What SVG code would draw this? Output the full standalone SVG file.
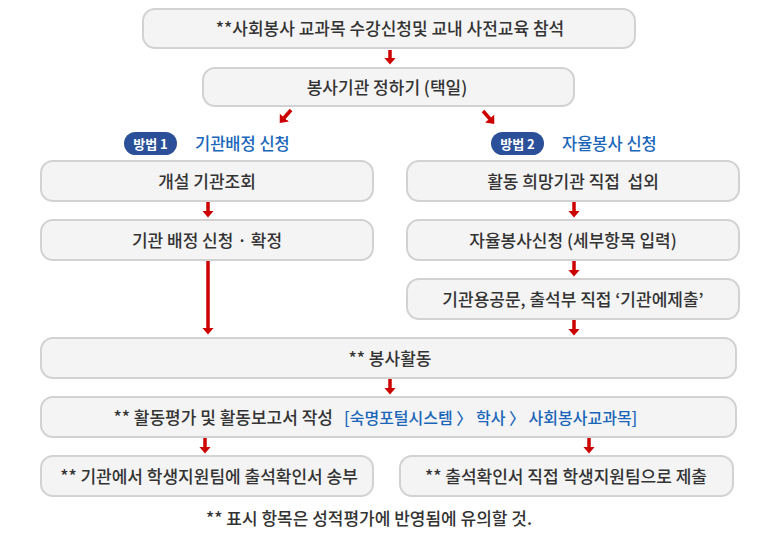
<svg xmlns="http://www.w3.org/2000/svg" width="780" height="550" viewBox="0 0 780 550">
<defs>
<style>
.box{fill:#f4f4f4;stroke:#d2d2d2;stroke-width:2}
.t{font-family:"Noto Sans CJK KR","Noto Sans",sans-serif;font-size:17px;font-weight:500;fill:#333;text-anchor:middle}
.blue{font-family:"Noto Sans CJK KR","Noto Sans",sans-serif;font-size:16px;font-weight:500;fill:#1a66b8}
.bt{font-family:"Noto Sans CJK KR","Noto Sans",sans-serif;font-size:13px;font-weight:bold;fill:#fff;text-anchor:middle}
.lbl{font-family:"Noto Sans CJK KR","Noto Sans",sans-serif;font-size:16.5px;font-weight:500;fill:#1a66b8}
.pill{fill:#2b4f98}
.ar{stroke:#cc0000;stroke-width:3.5;fill:none;marker-end:url(#ah)}
</style>
<marker id="ah" markerUnits="userSpaceOnUse" markerWidth="8" markerHeight="13" refX="0.5" refY="6.5" orient="auto" viewBox="0 0 8 13">
<path d="M0,0.5 L7,6.5 L0,12.5 Z" fill="#cc0000"/>
</marker>
</defs>
<g id="connectors">
<path class="ar" d="M390,50 L390,58"/>
<path class="ar" d="M291,110 L284,118"/>
<path class="ar" d="M483,111 L490,119"/>
<path class="ar" d="M208,202 L208,211"/>
<path class="ar" d="M208,261 L208,328"/>
<path class="ar" d="M574,202 L574,211"/>
<path class="ar" d="M574,261 L574,270"/>
<path class="ar" d="M574,320 L574,329"/>
<path class="ar" d="M390,379 L390,388"/>
<path class="ar" d="M205,438 L205,447"/>
<path class="ar" d="M589,438 L589,447"/>
</g>
<g id="n1"><rect class="box" x="143" y="9" width="492" height="39" rx="12"/><text class="t" x="390" y="35">**사회봉사 교과목 수강신청및 교내 사전교육 참석</text></g>
<g id="n2"><rect class="box" x="203" y="68" width="371" height="38" rx="12"/><text class="t" x="387" y="94">봉사기관 정하기 (택일)</text></g>
<g id="m1"><rect class="pill" x="124" y="132" width="53" height="23" rx="11.5"/><text class="bt" x="150.5" y="148.5">방법 1</text><text class="lbl" x="195" y="150">기관배정 신청</text></g>
<g id="m2"><rect class="pill" x="491" y="132" width="53" height="23" rx="11.5"/><text class="bt" x="517.5" y="148.5">방법 2</text><text class="lbl" x="562" y="150">자율봉사 신청</text></g>
<g id="l1"><rect class="box" x="41" y="161" width="332" height="40" rx="12"/><text class="t" x="207" y="188">개설 기관조회</text></g>
<g id="l2"><rect class="box" x="41" y="220" width="332" height="40" rx="12"/><text class="t" x="207" y="247">기관 배정 신청 · 확정</text></g>
<g id="r1"><rect class="box" x="407" y="161" width="332" height="40" rx="12"/><text class="t" x="573" y="188" xml:space="preserve">활동 희망기관 직접  섭외</text></g>
<g id="r2"><rect class="box" x="407" y="220" width="332" height="40" rx="12"/><text class="t" x="573" y="247">자율봉사신청 (세부항목 입력)</text></g>
<g id="r3"><rect class="box" x="407" y="279" width="332" height="40" rx="12"/><text class="t" x="573" y="306">기관용공문, 출석부 직접 ‘기관에제출’</text></g>
<g id="n3"><rect class="box" x="41" y="338" width="695" height="40" rx="12"/><text class="t" x="390" y="365">** 봉사활동</text></g>
<g id="n4"><rect class="box" x="41" y="397" width="695" height="40" rx="12"/><text class="t" x="333" y="424" style="text-anchor:end">** 활동평가 및 활동보고서 작성</text><text class="blue" x="344" y="424">[숙명포털시스템 〉 학사 〉 사회봉사교과목]</text></g>
<g id="b1"><rect class="box" x="41" y="456" width="332" height="40" rx="12"/><text class="t" x="209" y="483">** 기관에서 학생지원팀에 출석확인서 송부</text></g>
<g id="b2"><rect class="box" x="400" y="456" width="333" height="40" rx="12"/><text class="t" x="566" y="483">** 출석확인서 직접 학생지원팀으로 제출</text></g>
<text class="t" x="369" y="525">** 표시 항목은 성적평가에 반영됨에 유의할 것.</text>
</svg>
